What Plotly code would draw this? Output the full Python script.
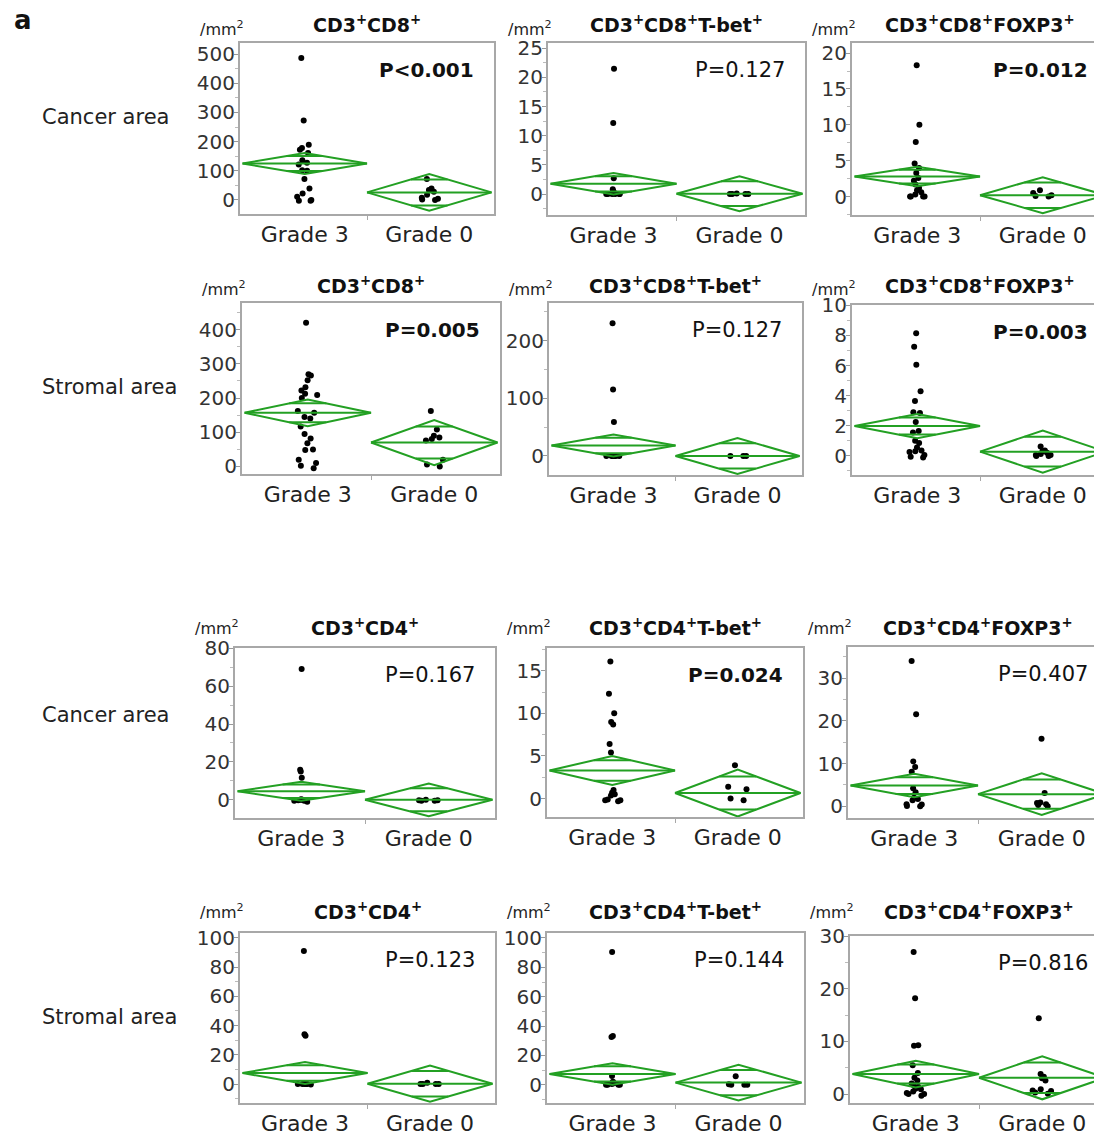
import math
import plotly.graph_objects as go

W, H = 1102, 1137
OFF = 8  # page body margin: figure is drawn 8 px right/down inside the window
FONT = "DejaVu Sans"
GREEN = "#23a023"

groups = ["Grade 3", "Grade 0"]
row_labels = ["Cancer area", "Stromal area", "Cancer area", "Stromal area"]

# ---------------- data ----------------
# Row 1: cancer area, CD8 panels
cancer_cd8_g3 = [487, 272, 189, 178, 172, 161, 136, 128, 122, 102, 100, 72, 39, 22, 11, 0, -3, -3]
cancer_cd8_g0 = [72, 39, 34, 28, 18, 8, 4, 2, 0]
cancer_cd8_mean = [125, 26]
cancer_cd8_ci = [36, 63]

cancer_cd8tbet_g3 = [21.5, 12.2, 2.7, 0.8, 0.5, 0.3, 0.1, 0, 0, 0, 0, 0, 0]
cancer_cd8tbet_g0 = [0.1, 0, 0, 0, 0]
cancer_cd8tbet_mean = [1.75, 0.05]
cancer_cd8tbet_ci = [1.85, 3.0]

cancer_cd8foxp3_g3 = [18.3, 10.0, 7.6, 4.6, 4.0, 3.3, 2.6, 2.2, 1.7, 1.2, 0.9, 0.6, 0.3, 0, 0, 0, 0]
cancer_cd8foxp3_g0 = [0.9, 0.5, 0.2, 0.1, 0]
cancer_cd8foxp3_mean = [2.8, 0.2]
cancer_cd8foxp3_ci = [1.35, 2.5]

# Row 2: stromal area, CD8 panels
stromal_cd8_g3 = [420, 270, 266, 252, 232, 222, 213, 209, 200, 162, 157, 145, 140, 117, 95, 82, 68,
                  50, 48, 20, 10, 2, -5]
stromal_cd8_g0 = [162, 108, 90, 85, 80, 76, 20, 6, 0]
stromal_cd8_mean = [157, 70]
stromal_cd8_ci = [39, 66]

stromal_cd8tbet_g3 = [230, 115, 59, 0, 0, 0, 0, 0, 0, 0]
stromal_cd8tbet_g0 = [0, 0, 0]
stromal_cd8tbet_mean = [18, 0]
stromal_cd8tbet_ci = [19, 31]

stromal_cd8foxp3_g3 = [8.15, 7.25, 6.05, 4.3, 3.65, 2.9, 2.85, 2.25, 1.65, 1.55, 1.0, 0.85, 0.55,
                       0.35, 0.3, 0.25, 0.05, -0.05, -0.1]
stromal_cd8foxp3_g0 = [0.62, 0.35, 0.3, 0.2, 0.12, 0.05, 0.0, 0.0, 0.05]
stromal_cd8foxp3_mean = [1.98, 0.28]
stromal_cd8foxp3_ci = [0.8, 1.4]

# Row 3: cancer area, CD4 panels
cancer_cd4_g3 = [69, 15.8, 15, 11.6, 0.3, 0, 0, -0.3, -0.5, -0.5, -1]
cancer_cd4_g0 = [0, -0.3, -0.5, -0.5, -0.2]
cancer_cd4_mean = [4.5, 0]
cancer_cd4_ci = [5.0, 8.6]

cancer_cd4tbet_g3 = [16.1, 12.3, 10.0, 9.0, 8.7, 6.4, 5.4, 1.0, 0.7, 0.5, 0.35, -0.1, -0.2, -0.3, -0.2]
cancer_cd4tbet_g0 = [3.9, 1.4, 1.1, 0.0, -0.2]
cancer_cd4tbet_mean = [3.3, 0.65]
cancer_cd4tbet_ci = [1.7, 2.75]

cancer_cd4foxp3_g3 = [34, 21.5, 10.5, 9.2, 8.1, 4.2, 3.3, 2.0, 1.7, 1.4, 0.5, 0.4, 0.1, 0.0]
cancer_cd4foxp3_g0 = [15.8, 3.1, 0.9, 0.8, 0.5, 0.3, 0.0]
cancer_cd4foxp3_mean = [4.85, 2.85]
cancer_cd4foxp3_ci = [2.75, 4.85]

# Row 4: stromal area, CD4 panels
stromal_cd4_g3 = [91, 34, 33, 0.5, 0, 0, 0, 0, 0, -0.3]
stromal_cd4_g0 = [0.8, 0, 0, 0, 0]
stromal_cd4_mean = [7.5, 0.2]
stromal_cd4_ci = [7.5, 12.4]

stromal_cd4tbet_g3 = [90.5, 33.2, 32.5, 6.0, 2.0, 1.5, 1.0, 0.5, 0, 0, 0, 0]
stromal_cd4tbet_g0 = [5.8, 0.3, 0, 0, 0]
stromal_cd4tbet_mean = [7.4, 1.5]
stromal_cd4tbet_ci = [7.3, 12.2]

stromal_cd4foxp3_g3 = [27, 18.2, 9.3, 9.2, 5.5, 4.0, 3.1, 2.6, 2.0, 1.7, 1.4, 1.0, 0.9, 0.5, 0.2, 0, 0, -0.3]
stromal_cd4foxp3_g0 = [14.4, 3.8, 3.3, 3.0, 2.6, 0.9, 0.7, 0.6, 0.3, 0.05]
stromal_cd4foxp3_mean = [3.8, 3.1]
stromal_cd4foxp3_ci = [2.55, 4.1]

titles = [
    "CD3<sup>+</sup>CD8<sup>+</sup>", "CD3<sup>+</sup>CD8<sup>+</sup>T-bet<sup>+</sup>",
    "CD3<sup>+</sup>CD8<sup>+</sup>FOXP3<sup>+</sup>",
    "CD3<sup>+</sup>CD8<sup>+</sup>", "CD3<sup>+</sup>CD8<sup>+</sup>T-bet<sup>+</sup>",
    "CD3<sup>+</sup>CD8<sup>+</sup>FOXP3<sup>+</sup>",
    "CD3<sup>+</sup>CD4<sup>+</sup>", "CD3<sup>+</sup>CD4<sup>+</sup>T-bet<sup>+</sup>",
    "CD3<sup>+</sup>CD4<sup>+</sup>FOXP3<sup>+</sup>",
    "CD3<sup>+</sup>CD4<sup>+</sup>", "CD3<sup>+</sup>CD4<sup>+</sup>T-bet<sup>+</sup>",
    "CD3<sup>+</sup>CD4<sup>+</sup>FOXP3<sup>+</sup>",
]
p_texts = ["P<0.001", "P=0.127", "P=0.012",
           "P=0.005", "P=0.127", "P=0.003",
           "P=0.167", "P=0.024", "P=0.407",
           "P=0.123", "P=0.144", "P=0.816"]
p_bold = [True, False, True,
          True, False, True,
          False, True, False,
          False, False, False]

panel_data = [
    (cancer_cd8_g3, cancer_cd8_g0, cancer_cd8_mean, cancer_cd8_ci),
    (cancer_cd8tbet_g3, cancer_cd8tbet_g0, cancer_cd8tbet_mean, cancer_cd8tbet_ci),
    (cancer_cd8foxp3_g3, cancer_cd8foxp3_g0, cancer_cd8foxp3_mean, cancer_cd8foxp3_ci),
    (stromal_cd8_g3, stromal_cd8_g0, stromal_cd8_mean, stromal_cd8_ci),
    (stromal_cd8tbet_g3, stromal_cd8tbet_g0, stromal_cd8tbet_mean, stromal_cd8tbet_ci),
    (stromal_cd8foxp3_g3, stromal_cd8foxp3_g0, stromal_cd8foxp3_mean, stromal_cd8foxp3_ci),
    (cancer_cd4_g3, cancer_cd4_g0, cancer_cd4_mean, cancer_cd4_ci),
    (cancer_cd4tbet_g3, cancer_cd4tbet_g0, cancer_cd4tbet_mean, cancer_cd4tbet_ci),
    (cancer_cd4foxp3_g3, cancer_cd4foxp3_g0, cancer_cd4foxp3_mean, cancer_cd4foxp3_ci),
    (stromal_cd4_g3, stromal_cd4_g0, stromal_cd4_mean, stromal_cd4_ci),
    (stromal_cd4tbet_g3, stromal_cd4tbet_g0, stromal_cd4tbet_mean, stromal_cd4tbet_ci),
    (stromal_cd4foxp3_g3, stromal_cd4foxp3_g0, stromal_cd4foxp3_mean, stromal_cd4foxp3_ci),
]

# ---------------- layout geometry (window pixels) ----------------
boxes = [  # left, right, top, bottom
    (240, 494, 43, 214), (548, 805, 43, 215), (852, 1108, 43, 215),
    (242, 500, 303, 474), (549, 802, 303, 475), (852, 1108, 305, 475),
    (235, 495, 648, 818), (547, 803, 648, 817), (848, 1108, 647, 818),
    (240, 495, 933, 1103), (547, 804, 933, 1103), (850, 1108, 936, 1103),
]
title_y = [24, 285, 627, 911]   # per row
unit_y = [28, 288, 627, 911]    # per row
y_ranges = [
    (-48, 538), (-3.6, 25.9), (-2.56, 21.4),
    (-22, 478), (-33, 265), (-1.27, 10.02),
    (-9.6, 80.1), (-2.16, 17.67), (-2.73, 37.25),
    (-13, 103.4), (-12.4, 103.4), (-1.7, 30.05),
]
y_dticks = [(100, 50), (5, 2.5), (5, 2.5),
            (100, 50), (100, 50), (2, 1),
            (20, 10), (5, 2.5), (10, 5),
            (20, 10), (20, 10), (10, 5)]
row_label_y = [117, 387, 715, 1017]


def px(xw):
    return (xw - OFF) / W


def py(yw):
    return 1 - (yw - OFF) / H


fig = go.Figure()
annotations = []

for i, (g3, g0, means, cis) in enumerate(panel_data):
    left, right, top, bottom = boxes[i]
    row = i // 3
    k = i + 1
    xa = "x" if k == 1 else f"x{k}"
    ya = "y" if k == 1 else f"y{k}"

    # points
    for gi, vals in enumerate([g3, g0]):
        fig.add_trace(go.Box(
            y=vals, x0=gi, width=0.5, boxpoints="all", jitter=0.36, pointpos=0,
            fillcolor="rgba(0,0,0,0)", line=dict(width=0, color="rgba(0,0,0,0)"),
            marker=dict(color="black", size=6), whiskerwidth=0,
            xaxis=xa, yaxis=ya, showlegend=False, hoverinfo="y", name=groups[gi]))

    # means diamonds
    for gi in range(2):
        m, h = means[gi], cis[gi]
        c = gi
        o = h / math.sqrt(2)
        ow = 0.5 * (1 - 1 / math.sqrt(2))
        xs = [c - 0.5, c, c + 0.5, c, c - 0.5, None,
              c - 0.5, c + 0.5, None,
              c - ow, c + ow, None,
              c - ow, c + ow]
        ys = [m, m + h, m, m - h, m, None,
              m, m, None,
              m + o, m + o, None,
              m - o, m - o]
        fig.add_trace(go.Scatter(x=xs, y=ys, mode="lines",
                                 line=dict(color=GREEN, width=2),
                                 xaxis=xa, yaxis=ya, showlegend=False,
                                 hoverinfo="skip", cliponaxis=True))

    xkey = "xaxis" if k == 1 else f"xaxis{k}"
    ykey = "yaxis" if k == 1 else f"yaxis{k}"
    fig.layout[xkey] = dict(
        domain=[px(left), px(right)], range=[-0.52, 1.52],
        anchor=ya, tickmode="array", tickvals=[0, 1], ticktext=groups,
        ticks="", showgrid=False, zeroline=False, showline=True, mirror=True,
        linecolor="#a8a8a8", linewidth=2, fixedrange=True, automargin=False,
        tickfont=dict(family=FONT, size=22, color="#222"),
        minor=dict(tickvals=[0.5], ticks="outside", ticklen=4, tickcolor="#a8a8a8", tickwidth=1),
    )
    dt, mdt = y_dticks[i]
    fig.layout[ykey] = dict(
        domain=[py(bottom), py(top)], range=list(y_ranges[i]), anchor=xa,
        dtick=dt, tick0=0, ticks="outside", ticklen=4, tickcolor="#999", tickwidth=1,
        ticklabelstandoff=-5,
        showgrid=False, zeroline=False, showline=True, mirror=True,
        linecolor="#a8a8a8", linewidth=2, automargin=False, fixedrange=True,
        tickfont=dict(family=FONT, size=20, color="#333"),
        minor=dict(dtick=mdt, tick0=0, ticks="outside", ticklen=3, tickcolor="#bbb", tickwidth=1),
    )

    # panel title
    cx = (left + right) / 2
    annotations.append(dict(
        x=px(cx), y=py(title_y[row]), xref="paper", yref="paper",
        text=f"<b>{titles[i]}</b>", showarrow=False, xanchor="center", yanchor="middle",
        font=dict(family=FONT, size=19, color="#111")))
    annotations.append(dict(
        x=px(left + 6), y=py(unit_y[row]), xref="paper", yref="paper",
        text="/mm<sup>2</sup>", showarrow=False, xanchor="right", yanchor="middle",
        font=dict(family=FONT, size=16, color="#222")))
    ptxt = f"<b>{p_texts[i]}</b>" if p_bold[i] else p_texts[i]
    annotations.append(dict(
        x=px(right - 18), y=py(top + 27), xref="paper", yref="paper",
        text=ptxt, showarrow=False, xanchor="right", yanchor="middle",
        font=dict(family=FONT, size=20 if p_bold[i] else 21, color="#111")))

for r, lab in enumerate(row_labels):
    annotations.append(dict(
        x=px(40), y=py(row_label_y[r]), xref="paper", yref="paper", text=lab,
        showarrow=False, xanchor="left", yanchor="middle",
        font=dict(family=FONT, size=21, color="#222")))

annotations.append(dict(
    x=px(12), y=py(20), xref="paper", yref="paper", text="<b>a</b>",
    showarrow=False, xanchor="left", yanchor="middle",
    font=dict(family=FONT, size=26, color="#111")))

fig.update_layout(
    width=W, height=H, margin=dict(l=0, r=0, t=0, b=0, autoexpand=False),
    paper_bgcolor="white", plot_bgcolor="white", showlegend=False,
    annotations=annotations, font=dict(family=FONT),
)

fig.write_html("out.html")
